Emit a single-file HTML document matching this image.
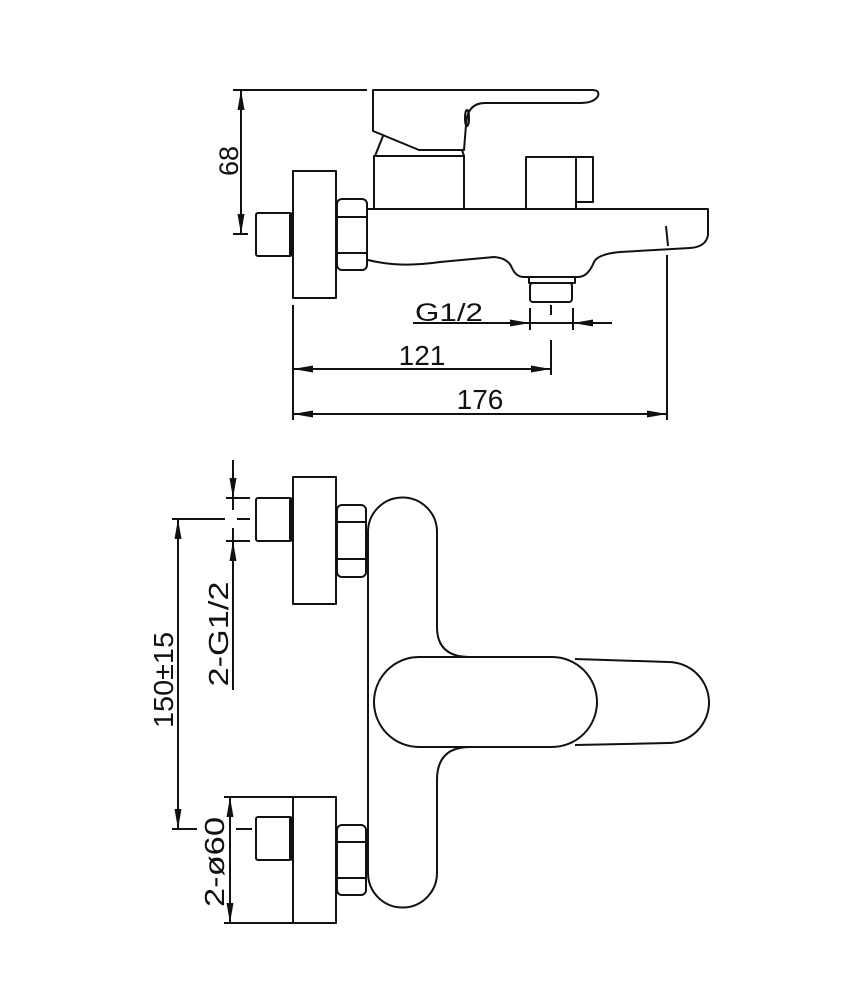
<!DOCTYPE html>
<html><head><meta charset="utf-8"><style>
html,body{margin:0;padding:0;background:#fff;}
svg{display:block;}
text{font-family:"Liberation Sans",sans-serif;fill:#111;}
</style></head><body>
<svg width="856" height="1000" viewBox="0 0 856 1000" xmlns="http://www.w3.org/2000/svg">
<defs>
<marker id="a" viewBox="0 0 20 7" refX="20" refY="3.5" markerWidth="20" markerHeight="7" markerUnits="userSpaceOnUse" orient="auto-start-reverse">
<path d="M0,0 L20,3.5 L0,7 Z" fill="#111"/></marker>
</defs>
<g fill="none" stroke="#111" stroke-width="2" stroke-linejoin="round">
<!-- TOP VIEW -->
<path d="M373,90 L592,90 Q600,90 598,96 Q594,103 580,103 L485,103 Q467,103 466,125 L464,150 L419,150 L373,131 Z"/>
<path d="M383,136 L375,156"/>
<path d="M462,150 L464,156"/>
<ellipse cx="467" cy="118" rx="2" ry="8"/>
<rect x="374" y="156" width="90" height="53"/>
<rect x="526" y="157" width="50" height="52"/>
<rect x="576" y="157" width="17" height="45"/>
<path d="M368,209 L708,209 L708,235 Q706,247 690,248 L620,252 Q598,254 594,262 Q588,277 578,277 L524,277 Q516,277 512,268 Q508,258 494,257 L440,262 Q400,268 368,260"/>
<path d="M666,226 L668,246"/>
<rect x="529" y="277" width="46" height="6"/>
<rect x="530" y="283" width="42" height="19" rx="3"/>
<!-- hex nut -->
<rect x="337" y="199" width="30" height="71" rx="5"/>
<path d="M337,217 L367,217 M337,253 L367,253"/>
<rect x="293" y="171" width="43" height="127"/>
<rect x="256" y="213" width="36" height="43" rx="2"/>
<path d="M290,213 L290,256"/>
<!-- dim 68 -->
<path d="M233,90 L367,90 M233,234 L248,234"/>
<path d="M241,90 L241,234" marker-start="url(#a)" marker-end="url(#a)"/>
<path d="M293,305 L293,420 M667,255 L667,420 M551,340 L551,375 M530,308 L530,330 M573,308 L573,330 M551,305 L551,315"/>
<path d="M413,323 L530,323" marker-end="url(#a)"/>
<path d="M612,323 L573,323" marker-end="url(#a)"/>
<path d="M530,323 L573,323"/>
<path d="M293,369 L551,369" marker-start="url(#a)" marker-end="url(#a)"/>
<path d="M293,414 L667,414" marker-start="url(#a)" marker-end="url(#a)"/>

<!-- BOTTOM VIEW -->
<path d="M368,532 A34.5,34.5 0 0 1 437,532 L437,627 Q437,657 470,657"/>
<path d="M470,747 Q437,747 437,780 L437,873 A34.5,34.5 0 0 1 368,873 L368,532"/>
<path d="M419,657 L552,657 A45,45 0 0 1 552,747 L419,747 A45,45 0 0 1 419,657 Z"/>
<path d="M575,659 L668,662 A41,40.5 0 0 1 668,743 L575,745"/>
<rect x="293" y="477" width="43" height="127"/>
<rect x="256" y="498" width="36" height="43" rx="2"/>
<path d="M290,498 L290,541"/>
<rect x="337" y="505" width="29" height="72" rx="5"/>
<path d="M337,522 L366,522 M337,559 L366,559"/>
<rect x="293" y="797" width="43" height="126"/>
<rect x="256" y="817" width="36" height="43" rx="2"/>
<path d="M290,817 L290,860"/>
<rect x="337" y="825" width="29" height="70" rx="5"/>
<path d="M337,842 L366,842 M337,878 L366,878"/>
<path d="M226,498 L250,498 M226,541 L250,541 M237,519 L250,519"/>
<path d="M233,460 L233,498" marker-end="url(#a)"/>
<path d="M233,690 L233,541" marker-end="url(#a)"/>
<path d="M233,498 L233,510 M233,528 L233,541"/>
<path d="M172,519 L225,519 M172,829 L197,829 M236,829 L252,829"/>
<path d="M178,519 L178,829" marker-start="url(#a)" marker-end="url(#a)"/>
<path d="M224,797 L293,797 M224,923 L293,923"/>
<path d="M230,797 L230,923" marker-start="url(#a)" marker-end="url(#a)"/>
</g>
<text x="415" y="321" font-size="25" textLength="68" lengthAdjust="spacingAndGlyphs">G1/2</text>
<text x="422" y="365" font-size="28" text-anchor="middle">121</text>
<text x="480" y="409" font-size="28" text-anchor="middle">176</text>
<text transform="translate(238,161) rotate(-90)" font-size="27" text-anchor="middle">68</text>
<text transform="translate(173,680) rotate(-90)" font-size="28" text-anchor="middle" textLength="96" lengthAdjust="spacingAndGlyphs">150±15</text>
<text transform="translate(228,634) rotate(-90)" font-size="28" text-anchor="middle" textLength="105" lengthAdjust="spacingAndGlyphs">2-G1/2</text>
<text transform="translate(224,862) rotate(-90)" font-size="28" text-anchor="middle" textLength="90" lengthAdjust="spacingAndGlyphs">2-ø60</text>
</svg>
</body></html>
